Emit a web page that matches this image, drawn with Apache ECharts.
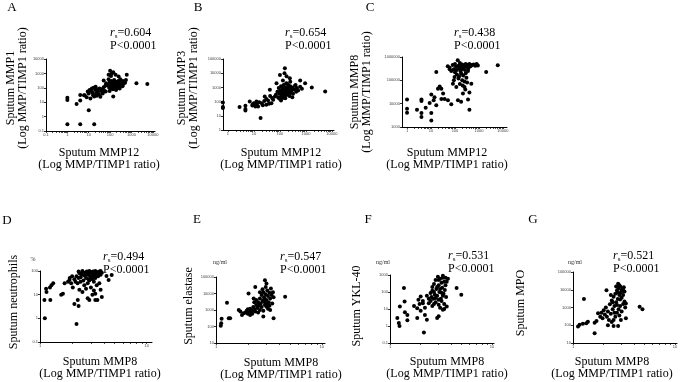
<!DOCTYPE html>
<html>
<head>
<meta charset="utf-8">
<script src="https://cdn.jsdelivr.net/npm/echarts@6/dist/echarts.min.js"></script>
<style>
  html, body { margin: 0; padding: 0; background: #fff; }
  #chart { width: 682px; height: 382px; }
</style>
</head>
<body>
<div id="chart"></div>
<script>
// values, [x, y] pairs in raw units (axes are log10)
const panelA = [
  [1,0.3],[4,0.3],[18,0.3],[1,14],[1,20],[2.7,7.6],[4,13],[4,31],[10,2.8],[6.5,30],
  [6,30],[8,22],[9,55],[10,40],[11,70],[12,18],[13,60],[14,90],[15,45],[16,30],
  [17,100],[18,25],[20,70],[21,120],[22,40],[24,28],[25,80],[27,55],[30,35],[32,90],
  [35,24],[38,60],[42,80],[45,40],[50,110],[55,60],[60,140],[62,55],
  [50,320],[65,210],[85,800],[100,1500],[120,1000],[110,650],[140,1200],[180,800],[250,620],[600,800],[300,400],
  [80,150],[90,100],[95,250],[100,180],[105,120],[110,90],[115,300],[120,200],[125,140],[130,100],
  [135,80],[140,250],[145,160],[150,120],[155,350],[160,200],[165,90],[170,140],[175,110],[180,260],
  [185,170],[190,70],[200,130],[210,220],[220,100],[230,160],[240,300],[250,120],[260,190],[280,90],
  [300,250],[320,150],[350,200],[380,130],[400,300],[420,180],[450,250],[500,220],[550,350],[140,25],
  [130,200],[160,150],[200,95],[115,170],[180,110],[240,140],[95,60],[85,400],
  [1700,210],[5500,180]
];
const panelB = [
  [0.64,87],[0.64,41],[0.64,35],[2.8,41],[4.7,50],[4.7,30],[4.7,24],[6.9,100],[8.7,53],[10,78],
  [11.4,45],[12.5,100],[14.5,45],[18,7],[20,78],[26,230],[30,60],[35,120],[41,670],[47,78],
  [55,135],[64,230],[74,2000],[9,65],[13,60],[16,90],[22,55],[25,110],[38,70],[42,250],[30,150],[50,180],
  [100,7600],[155,22000],[150,10000],[240,4400],[130,3000],[180,6000],[1680,1000],[5500,510],[930,2000],[600,3000],[400,1500],
  [70,300],[80,500],[85,200],[90,900],[95,350],[100,150],[105,600],[110,1200],[115,250],[120,400],
  [125,800],[130,180],[135,500],[140,1500],[145,300],[150,700],[155,220],[160,1000],[170,400],[175,2000],
  [180,600],[190,300],[200,900],[210,1400],[220,500],[230,250],[240,800],[250,1200],[260,400],[280,600],
  [300,1000],[320,350],[350,700],[380,1300],[420,500],[450,900],[500,600],[600,1100],[700,800],[130,350],
  [160,170],[200,450],[110,120],[90,180],[250,2500],[300,200],[140,650],[190,1800]
];
const panelC = [
  [1,15000],[1,6100],[1,4100],[2.6,5500],[4,15000],[4,13000],[4,4000],[4,2700],[6,6700],[8.8,10600],
  [10.3,4000],[10.3,1900],[10.3,25000],[12.9,14000],[16.6,230000],[19.5,44000],[23,55000],[27,44000],[32,27000],[14,19000],
  [16.6,8500],[27,16000],[37,16000],[51,14000],[70,9400],[82,72000],[96,140000],[114,52000],[133,14000],[180,12000],
  [215,27000],[250,52000],[350,15000],[400,5500],[480,72000],[2000,230000],[6100,440000],[60,300000],
  [50,400000],[60,350000],[70,250000],[80,450000],[90,300000],[100,500000],[110,380000],[120,280000],[130,720000],[140,420000],
  [150,330000],[160,550000],[170,250000],[180,400000],[190,300000],[200,480000],[220,350000],[240,430000],[260,280000],[280,500000],
  [300,380000],[330,450000],[360,320000],[400,500000],[450,400000],[500,450000],[600,480000],[700,420000],[800,500000],[900,430000],
  [120,180000],[150,150000],[180,200000],[220,160000],[280,200000],[350,250000],[100,220000],[140,120000],[200,100000],[250,90000],
  [300,130000],[160,70000],[90,100000],[210,60000],[270,40000],[320,80000],[400,30000]
];
const panelD = [
  [1.11,1],[1.1,5.9],[1.25,5.9],[1.14,18],[1.15,13],[1.24,20],[1.28,25],[1.33,30],[1.58,10],[1.64,11],
  [1.7,30],[1.83,35],[1.89,42],[1.96,30],[2.03,20],[2.1,4],[2.2,0.58],[2.3,3.3],[2.26,6],[2.34,16],
  [2.5,13],[2.4,35],[2.8,7],[2.9,6],[3.1,10],[3.2,15],[3.3,6],[3.45,6],[3.3,11],[3.7,16],
  [3.8,8],[3.6,30],[4.4,42],[4.7,68],[4.2,62],
  [2.1,45],[2.2,60],[2.3,50],[2.35,80],[2.4,55],[2.45,70],[2.5,90],[2.55,40],[2.6,65],[2.65,85],
  [2.7,50],[2.75,95],[2.8,70],[2.85,45],[2.9,80],[2.95,60],[3.0,90],[3.05,55],[3.1,75],[3.15,95],
  [3.2,65],[3.25,85],[3.3,50],[3.35,70],[3.4,90],[3.5,60],[3.55,80],[3.6,95],[3.7,70],[3.8,85],
  [2.0,60],[1.9,50],[2.25,30],[2.6,25],[2.8,30],[3.0,20],[3.2,35],[3.4,25],[2.7,18],[2.9,40],
  [3.1,45],[2.5,100],[2.9,100],[3.3,100],[3.7,100],[2.3,95],[2.15,35]
];
const panelE = [
  [1.11,110],[1.12,160],[1.13,300],[1.27,2750],[1.32,316],[1.36,316],[1.64,1000],[1.7,800],[1.76,500],[1.83,630],
  [2.03,10000],[2.27,5000],[2.35,25000],[2.9,63000],[3.0,40000],[2.8,400],[3.5,316],[4.5,6300],[3.25,1000],
  [1.9,700],[1.95,900],[2.0,600],[2.05,800],[2.1,1200],[2.15,700],[2.2,900],[2.25,1500],[2.3,1100],[2.35,800],
  [2.4,2000],[2.45,1300],[2.5,3000],[2.55,1800],[2.6,5000],[2.65,2500],[2.7,8000],[2.75,3500],[2.8,12000],[2.85,6000],
  [2.9,2000],[2.95,9000],[3.0,4000],[3.05,15000],[3.1,7000],[3.15,3000],[3.2,11000],[3.25,5000],[3.3,20000],[3.35,8000],
  [3.4,2500],[2.5,700],[2.6,1000],[2.7,1500],[2.8,900],[2.9,3000],[3.0,1600],[3.1,1200],[2.4,4000],[2.3,3000],
  [2.2,600],[2.6,12000],[2.75,18000],[2.95,25000],[3.2,1800],[3.5,6000],[3.45,12000],[2.1,500],[2.0,1100],[2.85,4500],[3.05,2200]
];
const panelF = [
  [1.18,3],[1.22,1.5],[1.24,1],[1.25,14],[1.37,170],[1.39,28],[1.4,6.4],[1.48,4.5],[1.48,2.2],[1.72,15],
  [1.85,11],[1.85,3],[1.9,35],[2.0,55],[2.1,22],[2.15,0.42],[2.2,4.5],[2.3,2.3],[2.4,22],[2.5,87],
  [2.6,200],[2.9,3],[3.0,3.7],[3.3,9],[3.6,14],[4.5,170],[5.0,70],
  [2.5,30],[2.55,50],[2.6,120],[2.65,40],[2.7,300],[2.75,70],[2.8,500],[2.85,150],[2.9,60],[2.95,800],
  [3.0,250],[3.05,100],[3.1,600],[3.15,40],[3.2,350],[3.25,180],[3.3,900],[3.35,80],[3.4,400],[3.45,130],
  [3.5,700],[3.55,50],[2.6,15],[2.7,20],[2.8,25],[3.0,18],[3.2,30],[3.4,20],[2.9,200],[3.1,150],
  [3.3,60],[3.5,250],[2.7,100],[2.8,45],[3.0,35],[3.2,90],[3.6,400],[3.7,600],[2.4,40],[2.3,60],
  [2.2,12],[2.0,8],[1.95,20],[2.1,30],[3.1,12],[3.4,10],[3.3,700],[3.0,500]
];
const panelG = [
  [1.12,85],[1.16,105],[1.25,120],[1.28,3000],[1.35,130],[1.4,160],[1.63,140],[1.7,175],[1.63,36],[1.76,470],
  [2.13,9500],[2.77,22000],[3.1,9500],[3.3,1700],[3.3,250],[4.5,1100],[4.8,800],[2.77,90],[2.5,90],[2.2,100],
  [1.85,300],[1.9,500],[1.95,250],[2.0,700],[2.05,400],[2.1,1000],[2.15,300],[2.2,600],[2.25,200],[2.3,1500],
  [2.35,450],[2.4,2500],[2.45,800],[2.5,4000],[2.55,1200],[2.6,6000],[2.65,2000],[2.7,9000],[2.75,3000],[2.8,12000],
  [2.85,5000],[2.9,15000],[2.95,7000],[3.0,3500],[3.05,11000],[3.1,5000],[3.15,14000],[3.2,2200],[2.6,300],[2.7,500],
  [2.8,800],[2.9,1200],[3.0,600],[2.5,200],[2.4,150],[2.65,15000],[2.75,7000],[2.85,18000],[3.0,9000],[2.9,2800],
  [2.7,1400],[2.55,500],[2.45,2000],[3.1,1600],[2.35,5000],[2.85,350],[2.95,200],[3.2,8000],[3.25,1000]
];

const letters = ['A', 'B', 'C', 'D', 'E', 'F', 'G'];
const rsValues = ['0.604', '0.654', '0.438', '0.494', '0.547', '0.531', '0.521'];
const yTitles = ['Sputum MMP1', 'Sputum MMP3', 'Sputum MMP8', 'Sputum neutrophils', 'Sputum elastase', 'Sputum YKL-40', 'Sputum MPO'];
const xTitles = ['Sputum MMP12', 'Sputum MMP12', 'Sputum MMP12', 'Sputum MMP8', 'Sputum MMP8', 'Sputum MMP8', 'Sputum MMP8'];
const units = [null, null, null, '%', 'ng/ml', 'ng/ml', 'ng/ml'];
const ratioLabel = '(Log MMP/TIMP1 ratio)';

// decade ranges per panel (log10 of the tick labels)
const xDecades = [[-1, 4], [0, 4], [0, 4], [0, 1], [0, 1], [0, 1], [0, 1]];
const yDecades = [[-1, 4], [0, 5], [3, 6], [-1, 2], [1, 5], [-1, 3], [1, 5]];

// layout: grid box, axis extents, text anchors
const layout = [
  { g: [46, 59, 109, 72], xr: [-1, 4.1], letter: [12, 8], rs: [110, 33], yt: [11, 23, 88], xt: [99, 153], unit: null },
  { g: [223, 59, 111, 71], xr: [-0.19, 4.08], letter: [198, 8], rs: [285, 33], yt: [182, 194, 88], xt: [281, 153], unit: null },
  { g: [402, 57, 105, 70], xr: [-0.21, 4.17], letter: [370, 8], rs: [454, 33], yt: [355, 367, 92], xt: [447, 153], unit: null },
  { g: [40, 271, 112, 71], xr: [0, 1.05], letter: [7, 221], rs: [103, 257], yt: [14, null, 302], xt: [100, 362], unit: [33, 259] },
  { g: [216, 277, 109, 66], xr: [0, 1.03], letter: [197, 220], rs: [280, 257], yt: [189, null, 306], xt: [281, 363], unit: [220, 262] },
  { g: [390, 275, 104, 68], xr: [0, 1.02], letter: [368, 220], rs: [448, 256], yt: [357, null, 306], xt: [447, 362], unit: [383, 262] },
  { g: [573, 272, 104, 71], xr: [0, 1.02], letter: [533, 220], rs: [613, 256], yt: [521, null, 303], xt: [612, 362], unit: [575, 262] }
];

const panels = [panelA, panelB, panelC, panelD, panelE, panelF, panelG];
const serif = '"Liberation Serif", "DejaVu Serif", serif';

function range(a, b) {
  const out = [];
  for (let i = a; i <= b; i++) out.push(i);
  return out;
}
function minorTicks(a, b) {
  const out = [];
  for (let d = a; d <= b; d++) {
    out.push(d);
    if (d < b) for (let k = 2; k <= 9; k++) out.push(d + Math.log10(k));
  }
  return out;
}
function decadeLabel(v) {
  const p = Math.round(v);
  return p < 0 ? String(Math.pow(10, p).toFixed(-p)) : String(Math.pow(10, p));
}

const grids = [], xAxes = [], yAxes = [], series = [], graphics = [];

layout.forEach((L, i) => {
  grids.push({ left: L.g[0], top: L.g[1], width: L.g[2], height: L.g[3], containLabel: false });
  const axisCommon = {
    gridIndex: i,
    type: 'value',
    splitLine: { show: false },
    axisLine: { show: true, onZero: false, lineStyle: { color: '#000', width: 1 } },
    axisLabel: { fontSize: 4, margin: 2, color: '#444', fontFamily: 'Arial', formatter: decadeLabel }
  };
  const xd = xDecades[i], yd = yDecades[i];
  xAxes.push(Object.assign({}, axisCommon, {
    min: L.xr[0], max: L.xr[1],
    axisTick: { show: true, length: 2, customValues: minorTicks(xd[0], xd[1]), lineStyle: { color: '#000', width: 0.7 } },
    axisLabel: Object.assign({}, axisCommon.axisLabel, { customValues: range(xd[0], xd[1]) })
  }));
  yAxes.push(Object.assign({}, axisCommon, {
    min: yd[0], max: yd[1],
    axisTick: { show: true, length: 2, customValues: range(yd[0], yd[1]), lineStyle: { color: '#000', width: 0.8 } },
    axisLabel: Object.assign({}, axisCommon.axisLabel, { customValues: range(yd[0], yd[1]) })
  }));
  series.push({
    type: 'scatter',
    xAxisIndex: i,
    yAxisIndex: i,
    symbolSize: 4,
    itemStyle: { color: '#000', opacity: 1 },
    silent: true,
    data: panels[i].map(p => [Math.log10(p[0]), Math.log10(p[1])])
  });

  // panel letter
  graphics.push({ type: 'text', x: L.letter[0], y: L.letter[1],
    style: { text: letters[i], font: '13px ' + serif, fill: '#000', textAlign: 'center', textVerticalAlign: 'middle' } });
  // r_s and P
  graphics.push({ type: 'text', x: L.rs[0], y: L.rs[1],
    style: {
      text: '{i|r}{s|s}{n|=' + rsValues[i] + '}',
      fill: '#000', textAlign: 'left', textVerticalAlign: 'middle',
      rich: {
        i: { fontFamily: serif, fontSize: 12, fontStyle: 'italic', fill: '#000' },
        s: { fontFamily: serif, fontSize: 7, fill: '#000', padding: [6, 0, 0, 0] },
        n: { fontFamily: serif, fontSize: 12, fill: '#000' }
      }
    } });
  graphics.push({ type: 'text', x: L.rs[0], y: L.rs[1] + 13,
    style: { text: 'P<0.0001', font: '12px ' + serif, fill: '#000', textAlign: 'left', textVerticalAlign: 'middle' } });
  // y title(s), rotated
  graphics.push({ type: 'text', x: L.yt[0], y: L.yt[2], rotation: Math.PI / 2,
    style: { text: yTitles[i], font: '12px ' + serif, fill: '#000', textAlign: 'center', textVerticalAlign: 'middle' } });
  if (L.yt[1] !== null) {
    graphics.push({ type: 'text', x: L.yt[1], y: L.yt[2], rotation: Math.PI / 2,
      style: { text: ratioLabel, font: '12px ' + serif, fill: '#000', textAlign: 'center', textVerticalAlign: 'middle' } });
  }
  // x title
  graphics.push({ type: 'text', x: L.xt[0], y: L.xt[1],
    style: { text: xTitles[i], font: '12px ' + serif, fill: '#000', textAlign: 'center', textVerticalAlign: 'middle' } });
  graphics.push({ type: 'text', x: L.xt[0], y: L.xt[1] + 12,
    style: { text: ratioLabel, font: '12px ' + serif, fill: '#000', textAlign: 'center', textVerticalAlign: 'middle' } });
  if (L.unit) {
    graphics.push({ type: 'text', x: L.unit[0], y: L.unit[1],
      style: { text: units[i], font: '6px ' + serif, fill: '#333', textAlign: 'center', textVerticalAlign: 'middle' } });
  }
});

const chart = echarts.init(document.getElementById('chart'));
chart.setOption({
  animation: false,
  backgroundColor: '#fff',
  grid: grids,
  xAxis: xAxes,
  yAxis: yAxes,
  series: series,
  graphic: { elements: graphics }
});
</script>
</body>
</html>
